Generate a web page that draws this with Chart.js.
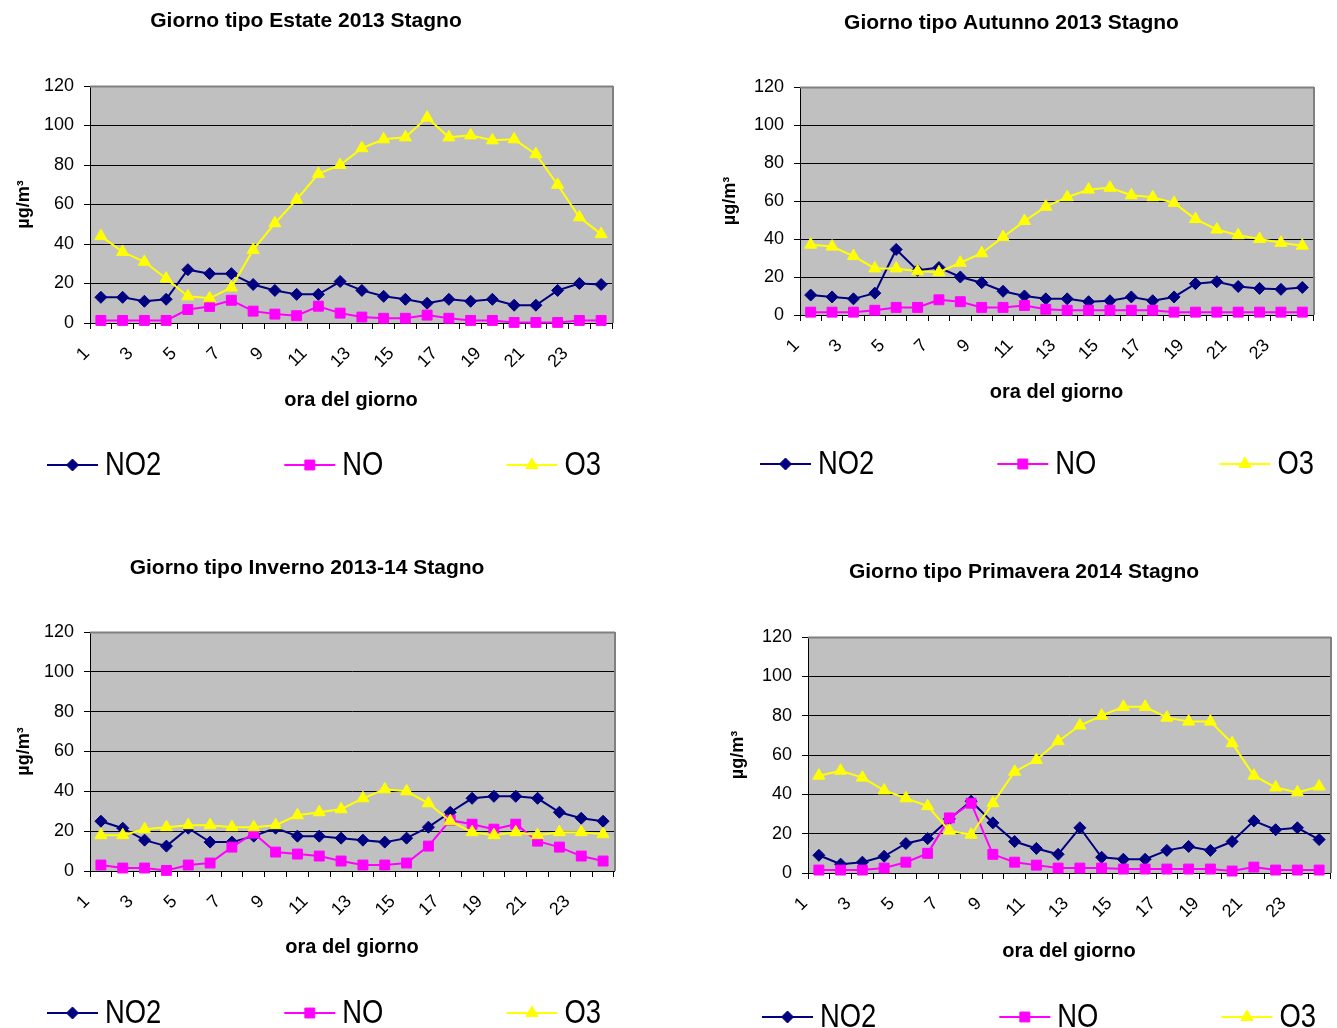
<!DOCTYPE html>
<html>
<head>
<meta charset="utf-8">
<script src="https://cdn.jsdelivr.net/npm/chart.js@4.4.0/dist/chart.umd.min.js"></script>
<style>
  html, body { margin: 0; padding: 0; background: #ffffff; }
  body { width: 1337px; height: 1028px; position: relative; overflow: hidden; }
  canvas { position: absolute; display: block; }
</style>
</head>
<body>
<canvas id="estate"></canvas>
<canvas id="autunno"></canvas>
<canvas id="inverno"></canvas>
<canvas id="primavera"></canvas>
<script>
// Ore del giorno (asse delle categorie)
const oreDelGiorno = ['1','2','3','4','5','6','7','8','9','10','11','12',
                      '13','14','15','16','17','18','19','20','21','22','23','24'];

// Giorno tipo Estate 2013 (µg/m³)
const estateNO2 = [13,13,11,12,27,25,25,19.5,16.5,14.5,14.5,21,16.5,13.5,12,10,12,11,12,9,9,16.5,20,19.5];
const estateNO  = [1.3,1.3,1.3,1.3,6.8,8.4,11.5,6,4.5,3.7,8.5,5,3,2.4,2.4,4,2.4,1.3,1.3,0.3,0.3,0.3,1.3,1.3];
const estateO3  = [44,36,31,22.5,13.5,12.5,18,37,50.5,62.5,75.5,80,88.5,93,94,104,94,95,92.5,93,85.5,70,53.5,45];

// Giorno tipo Autunno 2013
const autunnoNO2 = [10.5,9.5,8.5,11.5,34.5,23.5,25,20,17,12.5,10,8.5,8.5,7,7.5,9.5,7.5,9.5,16.5,17.5,15,14,13.5,14.5];
const autunnoNO  = [1.5,1.5,1.5,2.5,4,4,8,7,4,4,5,3,2.5,2.5,2.5,2.5,2.5,1.5,1.5,1.5,1.5,1.5,1.5,1.5];
const autunnoO3  = [37,36,31,24.5,24.5,23,22.5,27.5,32.5,41,49.5,57,62,66,67,63,62,59,50.5,45,42,40,38,36.5];

// Giorno tipo Inverno 2013-14
const invernoNO2 = [25,21.5,15.5,12.5,21.5,14.5,14.5,17.5,21.5,17.5,17.5,16.5,15.5,14.5,16.5,22,29.5,36.5,37.5,37.5,36.5,29.5,26.5,25];
const invernoNO  = [3,1.5,1.5,0.3,3,4,12,19,9.5,8.5,7.5,5,3,3,4,12.5,25.5,23.5,21,23.5,15,12,7.5,5];
const invernoO3  = [18,18,21,22,23,23,22,22,23,28,29.5,31,36.5,41,40,34,25,19.5,18,19.5,18,19.5,19.5,18.5];

// Giorno tipo Primavera 2014
const primaveraNO2 = [9,4.5,5.5,8.5,15,17.5,27.5,36.5,25.5,16,12.5,9.5,23,8,7,7,11.5,13.5,11.5,16,26.5,22,23,17];
const primaveraNO  = [1.5,1.5,1.5,2.5,5.5,10,28,35.5,9.5,5.5,4,2.5,2.5,2.5,2,2,2,2,2,1,3,1.5,1.5,1.5];
const primaveraO3  = [49.5,52,48.5,42,38,34,21.5,19.5,35.5,51.5,57.5,67,75,80,84.5,84.5,79,77,77,66,49.5,43.5,41,44];

// Titoli dei grafici e nomi delle serie
const titoli = ['Giorno tipo Estate 2013 Stagno', 'Giorno tipo Autunno 2013 Stagno',
                'Giorno tipo Inverno 2013-14 Stagno', 'Giorno tipo Primavera 2014 Stagno'];
const nomiSerie = ['NO2', 'NO', 'O3'];
const titoloAsseX = 'ora del giorno';
const titoloAsseY = 'µg/m³';

// Scala verticale
const yMin = 0, yMax = 120, yPasso = 20;

// Stile delle serie
const stili = [
  { colore: '#000080', marcatore: 'rectRot', raggio: 6,  ordine: 3 },
  { colore: '#FF00FF', marcatore: 'rect',    raggio: 7,  ordine: 2 },
  { colore: '#FFFF00', marcatore: 'triangle', raggio: 7, ordine: 1 }
];

// Impaginazione dei quattro pannelli (pixel della pagina)
const pannelli = [
  { id: 'estate',    dati: [estateNO2, estateNO, estateO3],          area: [90, 612, 86, 323],  titoloY: 21,  asseXTitoloY: 400, legendaY: 465,  legendaX: 47,  asseYTitoloX: 24 },
  { id: 'autunno',   dati: [autunnoNO2, autunnoNO, autunnoO3],       area: [800, 1313, 87, 315], titoloY: 23, asseXTitoloY: 392, legendaY: 464,  legendaX: 760, asseYTitoloX: 730 },
  { id: 'inverno',   dati: [invernoNO2, invernoNO, invernoO3],       area: [90, 614, 632, 871], titoloY: 568, asseXTitoloY: 947, legendaY: 1013, legendaX: 47,  asseYTitoloX: 24 },
  { id: 'primavera', dati: [primaveraNO2, primaveraNO, primaveraO3], area: [808, 1330, 637, 873], titoloY: 572, asseXTitoloY: 951, legendaY: 1017, legendaX: 762, asseYTitoloX: 738 }
];

const FONT = "'Liberation Sans', Arial, Helvetica, sans-serif";

// Sfondo grigio dell'area del grafico e bordo superiore/destro
const sfondoArea = {
  id: 'sfondoArea',
  beforeDraw(chart) {
    const { ctx, chartArea: a } = chart;
    ctx.save();
    ctx.fillStyle = '#C0C0C0';
    ctx.fillRect(a.left, a.top, a.right - a.left, a.bottom - a.top);
    ctx.restore();
  },
  beforeDatasetsDraw(chart) {
    const { ctx, chartArea: a } = chart;
    ctx.save();
    ctx.strokeStyle = '#808080';
    ctx.lineWidth = 2;
    ctx.beginPath();
    ctx.moveTo(a.left, a.top + 0.5);
    ctx.lineTo(a.right + 1, a.top + 0.5);
    ctx.moveTo(a.right + 1, a.top);
    ctx.lineTo(a.right + 1, a.bottom);
    ctx.stroke();
    ctx.restore();
  }
};

// Legenda orizzontale: linea con marcatore e nome della serie
const legendaSerie = {
  id: 'legendaSerie',
  afterDraw(chart, args, opts) {
    const { ctx } = chart;
    const y = opts.y;
    let x = opts.x;
    ctx.save();
    ctx.font = '33px ' + FONT;
    ctx.textBaseline = 'middle';
    ctx.textAlign = 'left';
    chart.data.datasets.forEach((ds) => {
      ctx.strokeStyle = ds.borderColor;
      ctx.lineWidth = 2;
      ctx.beginPath();
      ctx.moveTo(x, y);
      ctx.lineTo(x + 51, y);
      ctx.stroke();
      ctx.fillStyle = ds.pointBackgroundColor;
      ctx.strokeStyle = ds.pointBorderColor;
      ctx.lineWidth = 1;
      Chart.helpers.drawPoint(ctx, { pointStyle: ds.pointStyle, radius: ds.pointRadius, borderWidth: 1, rotation: 0 }, x + 25.5, y);
      const tx = x + 58;
      const larghezza = ctx.measureText(ds.label).width * 0.83;
      ctx.fillStyle = '#000000';
      ctx.save();
      ctx.translate(tx, y + 1);
      ctx.scale(0.83, 1);
      ctx.fillText(ds.label, 0, 0);
      ctx.restore();
      x = tx + larghezza + 123;
    });
    ctx.restore();
  }
};

pannelli.forEach((p, k) => {
  const [pl, pr, pt, pb] = p.area;
  const sinistra = pl - 90;
  const alto = p.titoloY - 22;
  const larghezza = pr + 20 - sinistra;
  const altezza = p.legendaY + 25 - alto;
  const altezzaAsseX = p.asseXTitoloY + 12 - pb;
  const paddingBasso = (alto + altezza) - (pb + altezzaAsseX);

  const canvas = document.getElementById(p.id);
  canvas.width = larghezza;
  canvas.height = altezza;
  canvas.style.left = sinistra + 'px';
  canvas.style.top = alto + 'px';
  canvas.style.width = larghezza + 'px';
  canvas.style.height = altezza + 'px';

  const datasets = nomiSerie.map((nome, i) => ({
    label: nome,
    data: p.dati[i],
    borderColor: stili[i].colore,
    backgroundColor: stili[i].colore,
    pointBackgroundColor: stili[i].colore,
    pointBorderColor: stili[i].colore,
    pointStyle: stili[i].marcatore,
    pointRadius: stili[i].raggio,
    pointHoverRadius: stili[i].raggio,
    pointBorderWidth: 1,
    borderWidth: 2,
    tension: 0,
    fill: false,
    clip: false,
    order: stili[i].ordine
  }));

  new Chart(canvas, {
    type: 'line',
    data: { labels: oreDelGiorno, datasets },
    plugins: [sfondoArea, legendaSerie],
    options: {
      responsive: false,
      animation: false,
      devicePixelRatio: 1,
      layout: { padding: { left: 0, right: 20, top: 0, bottom: paddingBasso } },
      plugins: {
        legend: { display: false },
        tooltip: { enabled: false },
        title: {
          display: true,
          text: titoli[k],
          color: '#000000',
          font: { family: FONT, size: 21, weight: 'bold', lineHeight: 1.2 },
          padding: { top: 9.4, bottom: pt - alto - 34.6 }
        },
        legendaSerie: { x: p.legendaX - sinistra, y: p.legendaY - alto }
      },
      scales: {
        x: {
          type: 'category',
          offset: true,
          afterFit(scale) { scale.height = altezzaAsseX; },
          grid: { offset: true, drawOnChartArea: false, drawTicks: true, tickLength: 6, color: '#000000', lineWidth: 1 },
          border: { display: true, color: '#000000', width: 1 },
          ticks: {
            autoSkip: false,
            minRotation: 45,
            maxRotation: 45,
            padding: 14,
            labelOffset: -14,
            color: '#000000',
            font: { family: FONT, size: 18 },
            callback: (v, i) => (i % 2 === 0 ? oreDelGiorno[i] : '')
          },
          title: {
            display: true,
            text: titoloAsseX,
            color: '#000000',
            font: { family: FONT, size: 20, weight: 'bold', lineHeight: 1.2 },
            padding: { top: 0, bottom: 0 }
          }
        },
        y: {
          min: yMin,
          max: yMax,
          afterFit(scale) { scale.width = 90; },
          grid: {
            color: (c) => (c.tick && c.tick.value === yMax ? '#808080' : '#000000'),
            lineWidth: 1,
            drawTicks: true,
            tickLength: 6,
            tickColor: '#000000'
          },
          border: { display: true, color: '#000000', width: 1 },
          ticks: {
            stepSize: yPasso,
            padding: 10,
            color: '#000000',
            font: { family: FONT, size: 18 }
          },
          title: {
            display: true,
            text: titoloAsseY,
            color: '#000000',
            font: { family: FONT, size: 18, weight: 'bold', lineHeight: 1.2 },
            padding: { top: p.asseYTitoloX - sinistra - 10.8, bottom: 0 }
          }
        }
      }
    }
  });
});
</script>
</body>
</html>
